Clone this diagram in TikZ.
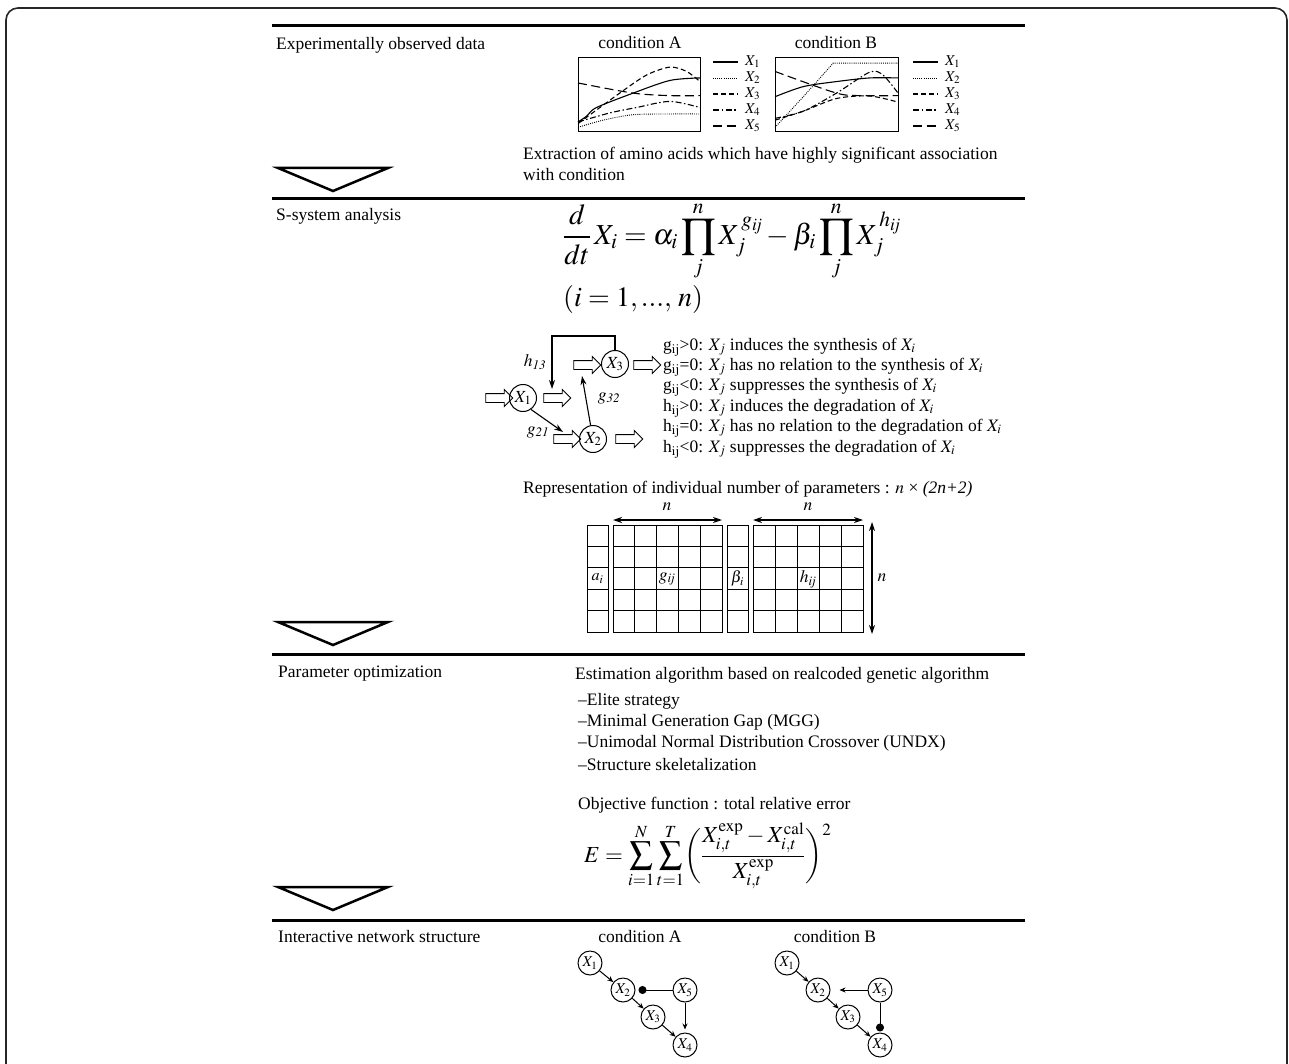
\documentclass[tikz,border=0pt]{standalone}
\usepackage{mathptmx}
\usepackage{fontspec}
\setmainfont{Liberation Serif}
\usetikzlibrary{shapes.arrows,arrows.meta,calc}
\begin{document}
\begin{tikzpicture}[x=1pt,y=-1pt,
  txt/.style={anchor=west,inner sep=0pt,font=\fontsize{17.5}{20}\selectfont},
  ctxt/.style={inner sep=0pt,font=\fontsize{17.5}{20}\selectfont},
  sepline/.style={line width=3pt},
  tri/.style={line width=2.5pt,fill=white,line join=miter},
  sx/.style={circle,draw,line width=1pt,minimum size=27pt,inner sep=0pt,font=\fontsize{17}{20}\selectfont},
  nx/.style={circle,draw,line width=1pt,minimum size=24pt,inner sep=0pt,font=\fontsize{15}{18}\selectfont},
  barrow/.style={single arrow,draw,line width=0.9pt,minimum height=27pt,single arrow head extend=4pt,inner sep=0pt,outer sep=0pt},
  con/.style={line width=1.1pt,-{Stealth[length=9pt,width=6pt]}},
  ncon/.style={line width=1pt,-{Stealth[length=6pt,width=5pt]}},
  dcon/.style={line width=1pt,-{Circle[length=8pt]}},
  curve/.style={line width=1.1pt},
  c1/.style={curve},
  c2/.style={curve,dash pattern=on 0.9pt off 1.2pt,line width=0.9pt},
  c3/.style={curve,dash pattern=on 5pt off 3pt},
  c4/.style={curve,dash pattern=on 6pt off 2.5pt on 1.5pt off 2.5pt},
  c5/.style={curve,dash pattern=on 9pt off 4.5pt},
  lgd/.style={anchor=west,inner sep=0pt,font=\fontsize{15}{18}\selectfont},
  cell/.style={line width=1pt},
  dbl/.style={line width=1.2pt,{Stealth[length=9pt,width=6pt]}-{Stealth[length=9pt,width=6pt]}}
]
\useasboundingbox (0,0) rectangle (1289,1064);
\fill[white] (0,0) rectangle (1289,1064);
% outer frame
\draw[line width=1.6pt,black!85,rounded corners=12pt] (6,1080) -- (6,8) -- (1287,8) -- (1287,1080);

% separators
\foreach \yy in {26,199,654,920} \draw[sepline] (272,\yy) -- (1025,\yy);
% triangles
\foreach \yy in {168,622,887} \draw[tri] (278,\yy) -- (388,\yy) -- (333,\yy+23) -- cycle;

% section titles
\node[txt] (t1) at (276,45) {Experimentally observed data};
\node[txt] (t2) at (276,216) {S-system analysis};
\node[txt] (t3) at (278,674) {Parameter optimization};
\node[txt] (t4) at (278,937) {Interactive network structure};

% ---------- section 1: plots ----------
\node[ctxt] (cA) at (640,43) {condition A};
\node[ctxt] (cB) at (836,43) {condition B};
\node[draw,line width=1.2pt,minimum width=122pt,minimum height=74pt,anchor=north west,inner sep=0pt] (boxA) at (578,57) {};
\node[draw,line width=1.2pt,minimum width=123pt,minimum height=74pt,anchor=north west,inner sep=0pt] (boxB) at (775,57) {};
\begin{scope}[shift={(578,57)},x=122pt,y=-74pt]
  \draw[c1] plot[smooth] coordinates {(0,0.878) (0.07,0.8) (0.151,0.683) (0.452,0.488) (0.753,0.317) (1,0.283)};
  \draw[c2] plot[smooth] coordinates {(0,0.951) (0.205,0.854) (0.452,0.78) (0.753,0.77) (1,0.77)};
  \draw[c3] plot[smooth] coordinates {(0,0.9) (0.342,0.488) (0.562,0.244) (0.753,0.137) (0.89,0.195) (1,0.332)};
  \draw[c4] plot[smooth] coordinates {(0,0.878) (0.26,0.756) (0.479,0.683) (0.753,0.6) (1,0.683)};
  \draw[c5] plot[smooth] coordinates {(0,0.351) (0.452,0.488) (0.753,0.522) (1,0.522)};
\end{scope}
\begin{scope}[shift={(775,57)},x=123pt,y=-74pt]
  \draw[c1] plot[smooth] coordinates {(0,0.537) (0.23,0.4) (0.5,0.332) (0.77,0.283) (1,0.283)};
  \draw[c2] (0,0.951) -- (0.23,0.537) -- (0.473,0.083) -- (1,0.083);
  \draw[c3] plot[smooth] coordinates {(0,0.854) (0.23,0.732) (0.5,0.561) (0.77,0.527) (1,0.61)};
  \draw[c4] plot[smooth] coordinates {(0,0.829) (0.23,0.732) (0.5,0.488) (0.77,0.205) (0.878,0.244) (1,0.488)};
  \draw[c5] plot[smooth] coordinates {(0,0.195) (0.5,0.488) (0.716,0.522) (1,0.522)};
\end{scope}
% legends
\foreach \st/\yy/\k in {c1/62/1,c2/78/2,c3/94/3,c4/110/4,c5/126/5}{
  \draw[\st] (713,\yy) -- (738,\yy);
  \node[lgd] (la\k) at (745,\yy) {$X_{\k}$};
  \draw[\st] (913,\yy) -- (938,\yy);
  \node[lgd] (lb\k) at (945,\yy) {$X_{\k}$};
}
\node[txt] (ex1) at (523,155) {Extraction of amino acids which have highly significant association};
\node[txt] (ex2) at (523,175) {with condition};

% ---------- section 2: S-system ----------
\node[anchor=west,inner sep=0pt,font=\fontsize{29}{33}\selectfont] (eq1) at (563,241)
  {$\displaystyle \frac{d}{dt}\,X_i=\alpha_i\prod_{j}^{n}X_j^{\,g_{\mathit{ij}}}-\beta_i\prod_{j}^{n}X_j^{\,h_{\mathit{ij}}}$};
\node[anchor=west,inner sep=0pt,font=\fontsize{28}{32}\selectfont] (eq2) at (563,300) {$(i=1,...,\,n)$};

\node[sx] (X1) at (523,398) {$X_1$};
\node[sx] (X3) at (615,364) {$X_3$};
\node[sx] (X2) at (593,439) {$X_2$};
\node[barrow] (a0) at (497,398) {\rule{0pt}{8pt}};
\node[barrow] (a1) at (555,398) {\rule{0pt}{8pt}};
\node[barrow] (a2) at (585,365) {\rule{0pt}{8pt}};
\node[barrow] (a3) at (645,365) {\rule{0pt}{8pt}};
\node[barrow] (a4) at (565,439) {\rule{0pt}{8pt}};
\node[barrow] (a5) at (627,439) {\rule{0pt}{8pt}};
\coordinate (h1) at (615,336);
\coordinate (h2) at (552,336);
\coordinate (h3) at (552,389);
\draw[con] (X3.north) -- (h1) -- (h2) -- (h3);
\coordinate (g32e) at (582,376);
\draw[con] (X2.100) -- (g32e);
\coordinate (g21e) at (563,432);
\draw[con] (X1.-55) -- (g21e);
\node[ctxt] (lh13) at (535,362) {$h_{\mathit{13}}$};
\node[ctxt] (lg32) at (609,398) {$g_{\mathit{32}}$};
\node[ctxt] (lg21) at (538,432) {$g_{\mathit{21}}$};

\node[txt] (r1) at (663,347) {g$_{\rm ij}$>0: $X_j$ induces the synthesis of $X_i$};
\node[txt] (r2) at (663,367) {g$_{\rm ij}$=0: $X_j$ has no relation to the synthesis of $X_i$};
\node[txt] (r3) at (663,387) {g$_{\rm ij}$<0: $X_j$ suppresses the synthesis of $X_i$};
\node[txt] (r4) at (663,408) {h$_{\rm ij}$>0: $X_j$ induces the degradation of $X_i$};
\node[txt] (r5) at (663,428) {h$_{\rm ij}$=0: $X_j$ has no relation to the degradation of $X_i$};
\node[txt] (r6) at (663,449) {h$_{\rm ij}$<0: $X_j$ suppresses the degradation of $X_i$};

\node[txt] (rep) at (523,489) {Representation of individual number of parameters : $n$ × \textit{(2n+2)}};

% grid
\def\gy{525}\def\rh{21.4}
\foreach \r in {0,...,4}{
  \draw[cell] (587,\gy+\r*\rh) rectangle (608,\gy+\r*\rh+\rh);
  \draw[cell] (727,\gy+\r*\rh) rectangle (748,\gy+\r*\rh+\rh);
  \foreach \c in {0,...,4}{
    \draw[cell] (613+\c*21.8,\gy+\r*\rh) rectangle (613+\c*21.8+21.8,\gy+\r*\rh+\rh);
    \draw[cell] (753+\c*22,\gy+\r*\rh) rectangle (753+\c*22+22,\gy+\r*\rh+\rh);
  }
}
\node[ctxt,inner sep=0pt,font=\fontsize{16}{18}\selectfont] (la) at (597.5,578.5) {$a_i$};
\node[ctxt,inner sep=0pt] (lg) at (667,579) {$g_{\mathit{ij}}$};
\node[ctxt,inner sep=0pt,font=\fontsize{16}{18}\selectfont] (lb) at (737.5,578.5) {$\beta_i$};
\node[ctxt,inner sep=0pt] (lhh) at (808,579) {$h_{\mathit{ij}}$};
\coordinate (n1a) at (613,520); \coordinate (n1b) at (722,520);
\coordinate (n2a) at (753,520); \coordinate (n2b) at (863,520);
\coordinate (n3a) at (872,522); \coordinate (n3b) at (872,634);
\draw[dbl] (n1a) -- (n1b);
\draw[dbl] (n2a) -- (n2b);
\draw[dbl] (n3a) -- (n3b);
\node[ctxt] (nl1) at (667,507) {$n$};
\node[ctxt] (nl2) at (808,507) {$n$};
\node[ctxt] (nl3) at (882,578) {$n$};

% ---------- section 3 ----------
\node[txt] (p1) at (575,675) {Estimation algorithm based on realcoded genetic algorithm};
\node[txt] (p2) at (578,701) {--Elite strategy};
\node[txt] (p3) at (578,722) {--Minimal Generation Gap (MGG)};
\node[txt] (p4) at (578,743) {--Unimodal Normal Distribution Crossover (UNDX)};
\node[txt] (p5) at (578,765) {--Structure skeletalization};
\node[txt] (p6) at (578,805) {Objective function : total relative error};
\node[anchor=west,inner sep=0pt,font=\fontsize{23}{27}\selectfont] (eqE) at (584,856)
  {$\displaystyle E=\sum_{i=1}^{N}\sum_{t=1}^{T}\biggl(\frac{X_{i,t}^{\rm exp}-X_{i,t}^{\rm cal}}{X_{i,t}^{\rm exp}}\biggr)^{2}$};

% ---------- section 4 ----------
\node[ctxt] (nA) at (640,937) {condition A};
\node[ctxt] (nB) at (835,937) {condition B};
\node[nx] (A1) at (590,963) {$X_1$};
\node[nx] (A2) at (623,990) {$X_2$};
\node[nx] (A5) at (685,990) {$X_5$};
\node[nx] (A3) at (653,1017) {$X_3$};
\node[nx] (A4) at (685,1045) {$X_4$};
\draw[ncon] (A1) -- (A2);
\draw[ncon] (A2) -- (A3);
\draw[ncon] (A3) -- (A4);
\draw[ncon,shorten >=3pt] (A5) -- (A4);
\draw[dcon,shorten >=3pt] (A5) -- (A2);
\node[nx] (B1) at (787,963) {$X_1$};
\node[nx] (B2) at (818,990) {$X_2$};
\node[nx] (B5) at (880,990) {$X_5$};
\node[nx] (B3) at (848,1017) {$X_3$};
\node[nx] (B4) at (880,1045) {$X_4$};
\draw[ncon] (B1) -- (B2);
\draw[ncon] (B2) -- (B3);
\draw[ncon] (B3) -- (B4);
\draw[ncon,shorten >=9pt] (B5) -- (B2);
\draw[dcon,shorten >=1pt] (B5) -- (B4);
\end{tikzpicture}
\end{document}
